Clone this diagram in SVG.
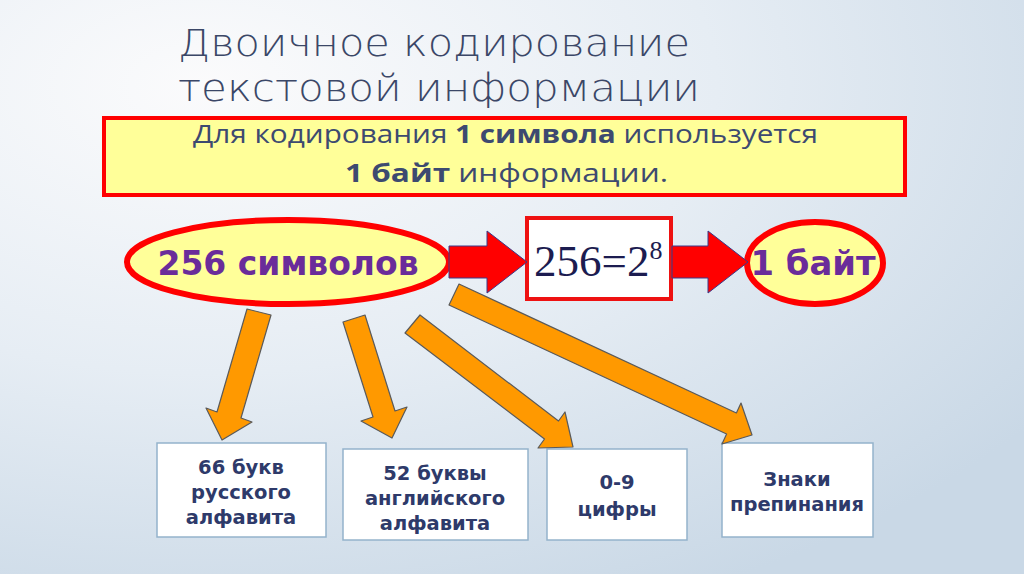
<svg xmlns="http://www.w3.org/2000/svg" width="1024" height="574" viewBox="0 0 1024 574">
<defs>
<radialGradient id="bg" cx="0.2" cy="0.15" r="1.0">
<stop offset="0" stop-color="#fbfbfc"/>
<stop offset="0.5" stop-color="#e6edf4"/>
<stop offset="1" stop-color="#c9d8e6"/>
</radialGradient>
<style>
.title{font-family:"DejaVu Sans","Liberation Sans",sans-serif;font-size:38px;fill:#3b4767;font-weight:200}
.info{font-family:"Open Sans","DejaVu Sans",sans-serif;font-size:25px;fill:#3d4a70}
.b{font-weight:bold}
.big{font-family:"DejaVu Sans","Liberation Sans",sans-serif;font-size:34px;font-weight:bold;fill:#6a2c9a;text-anchor:middle}
.oval{fill:#ffff99;stroke:#ff0000;stroke-width:6}
.cat{fill:#ffffff;stroke:#94b3cb;stroke-width:1.5}
.lbl{font-family:"DejaVu Sans","Liberation Sans",sans-serif;font-size:19.5px;font-weight:bold;fill:#2e3a6a;text-anchor:middle}
.red{fill:#ff0000;stroke:#3a3a8a;stroke-width:1}
.org{fill:#ff9900;stroke:#5a5a5a;stroke-width:1.2;stroke-linejoin:round}
</style>
</defs>
<rect width="1024" height="574" fill="url(#bg)"/>

<g id="title">
<text class="title" x="178" y="56" textLength="512" lengthAdjust="spacingAndGlyphs">Двоичное кодирование</text>
<text class="title" x="178" y="101" textLength="522" lengthAdjust="spacingAndGlyphs">текстовой информации</text>
</g>

<g id="info">
<rect x="104" y="118" width="801" height="77" fill="#ffff99" stroke="#ff0000" stroke-width="4"/>
<text class="info" x="193" y="143" textLength="625" lengthAdjust="spacingAndGlyphs">Для кодирования <tspan class="b">1 символа</tspan> используется</text>
<text class="info" x="345" y="182" textLength="323" lengthAdjust="spacingAndGlyphs"><tspan class="b">1 байт</tspan> информации.</text>
</g>

<g id="n256">
<ellipse class="oval" cx="288" cy="262" rx="161" ry="42"/>
<text class="big" x="288" y="275" textLength="261" lengthAdjust="spacingAndGlyphs">256 символов</text>
</g>

<g id="formula">
<rect x="527" y="218" width="144" height="81" fill="#ffffff" stroke="#ee1111" stroke-width="4"/>
<text x="534" y="276" font-family="'Liberation Serif','Times New Roman',serif" font-size="45" fill="#1c1c50">256=2<tspan font-size="26" dy="-17">8</tspan></text>
</g>

<g id="byte">
<ellipse class="oval" cx="815" cy="263" rx="68" ry="41"/>
<text class="big" x="813" y="275" textLength="125" lengthAdjust="spacingAndGlyphs">1 байт</text>
</g>

<g id="rus">
<rect class="cat" x="157" y="443" width="169" height="94"/>
<text class="lbl" x="241" y="474">66 букв</text>
<text class="lbl" x="241" y="499">русского</text>
<text class="lbl" x="241" y="524">алфавита</text>
</g>

<g id="eng">
<rect class="cat" x="343" y="449" width="185" height="91"/>
<text class="lbl" x="435" y="480">52 буквы</text>
<text class="lbl" x="435" y="505">английского</text>
<text class="lbl" x="435" y="530">алфавита</text>
</g>

<g id="digits">
<rect class="cat" x="547" y="449" width="140" height="91"/>
<text class="lbl" x="617" y="489">0-9</text>
<text class="lbl" x="617" y="516">цифры</text>
</g>

<g id="punct">
<rect class="cat" x="722" y="443" width="151" height="94"/>
<text class="lbl" x="797" y="486">Знаки</text>
<text class="lbl" x="797" y="511">препинания</text>
</g>

<g id="connectors">
<polygon class="red" points="449,246 487,246 487,231 527,262 487,293 487,278 449,278"/>
<polygon class="red" points="672,246 708,246 708,231 748,262 708,293 708,278 672,278"/>
<polygon class="org" points="247,309 271,315 241,418 252,422 222,440 206,408 217,412"/>
<polygon class="org" points="343,322 365,315 395,411 407,407 392,438 361,421 373,417"/>
<polygon class="org" points="405,333 420,315 558.5,421 565,412 573,447 538,448 544.5,439"/>
<polygon class="org" points="449,305 459,284 736.4,413 741,403 752,435 722,444 726.6,434"/>
</g>
</svg>
